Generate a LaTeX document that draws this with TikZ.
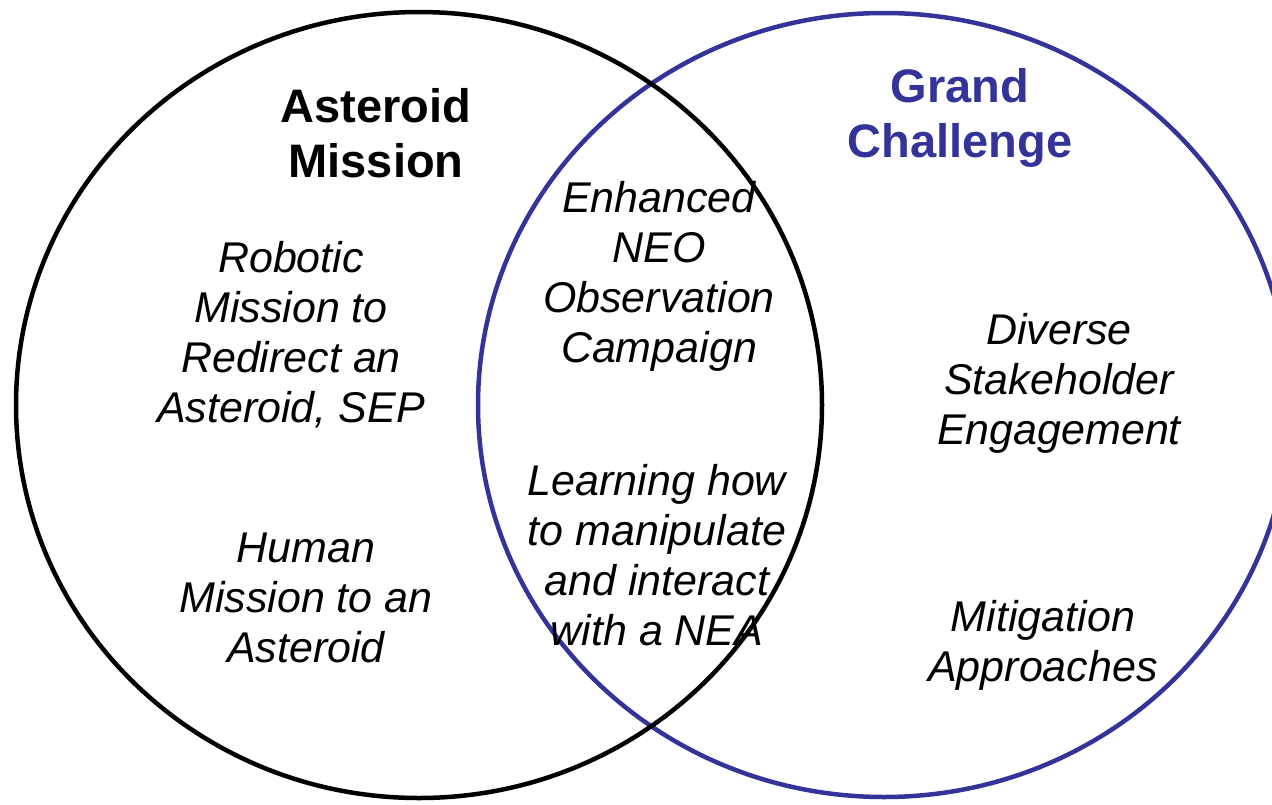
\documentclass[tikz,border=0pt]{standalone}
\usepackage{fontspec}
\setmainfont{Liberation Sans}
\definecolor{gcblue}{RGB}{51,51,153}
\begin{document}
\begin{tikzpicture}[x=1pt,y=-1pt,
  body/.style={align=center, inner sep=0pt, font=\fontsize{43}{50}\selectfont\itshape},
  title/.style={align=center, inner sep=0pt, font=\fontsize{47}{55}\selectfont\bfseries},
  ring/.style={line width=4.5pt}]
\useasboundingbox (0,0) rectangle (1272,804);
\clip (0,0) rectangle (1272,804);
\draw[ring, gcblue] (884,405) ellipse [x radius=406, y radius=392];
\draw[ring, black] (419,405) ellipse [x radius=403, y radius=393];
\node[title] (am) at (376,133) {Asteroid\\Mission};
\node[title, text=gcblue] (gc) at (960,118) {Grand\\Challenge};
\node[body] (robotic) at (291,335) {Robotic\\Mission to\\Redirect an\\Asteroid, SEP};
\node[body] (human) at (306,598) {Human\\Mission to an\\Asteroid};
\node[body] (neo) at (659,276) {Enhanced\\NEO\\Observation\\Campaign};
\node[body] (learn) at (657,555) {Learning how\\to manipulate\\and interact\\with a NEA};
\node[body] (diverse) at (1059,383) {Diverse\\Stakeholder\\Engagement};
\node[body] (mitig) at (1043,645) {Mitigation\\Approaches};
\end{tikzpicture}
\end{document}
